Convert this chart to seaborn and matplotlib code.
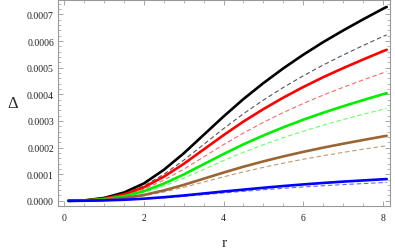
import numpy as np
import pandas as pd
import seaborn as sns
import matplotlib
matplotlib.use("Agg")
import matplotlib.pyplot as plt
from matplotlib.ticker import MultipleLocator, FormatStrFormatter

# data (values in units of 1e-4)
r = [0.1, 0.5, 1, 1.5, 2, 2.5, 3, 3.5, 4, 4.5, 5, 5.5, 6, 6.5, 7, 7.5, 8, 8.1]

black_solid = [0, 0.015, 0.109, 0.313, 0.655, 1.165, 1.784, 2.475, 3.167, 3.822, 4.419, 4.972, 5.482, 5.955, 6.392, 6.807, 7.207, 7.28]
black_dash = [0, 0.012, 0.093, 0.268, 0.561, 0.997, 1.526, 2.118, 2.710, 3.271, 3.782, 4.255, 4.691, 5.096, 5.470, 5.825, 6.168, 6.23]
red_solid = [0, 0.011, 0.085, 0.244, 0.510, 0.907, 1.389, 1.928, 2.466, 2.977, 3.442, 3.873, 4.270, 4.638, 4.978, 5.301, 5.613, 5.67]
red_dash = [0, 0.010, 0.073, 0.209, 0.437, 0.776, 1.188, 1.649, 2.110, 2.546, 2.944, 3.313, 3.652, 3.967, 4.258, 4.535, 4.802, 4.85]
green_solid = [0, 0.008, 0.061, 0.174, 0.364, 0.646, 0.990, 1.374, 1.757, 2.121, 2.452, 2.759, 3.042, 3.305, 3.547, 3.777, 4.0, 4.04]
green_dash = [0, 0.007, 0.052, 0.149, 0.312, 0.555, 0.850, 1.180, 1.509, 1.822, 2.106, 2.370, 2.613, 2.838, 3.047, 3.244, 3.435, 3.47]
brown_solid = [0, 0.005, 0.037, 0.105, 0.220, 0.390, 0.598, 0.830, 1.061, 1.281, 1.481, 1.667, 1.837, 1.996, 2.142, 2.281, 2.416, 2.44]
brown_dash = [0, 0.004, 0.031, 0.089, 0.186, 0.331, 0.507, 0.704, 0.900, 1.087, 1.256, 1.414, 1.559, 1.693, 1.817, 1.935, 2.049, 2.07]
blue_solid = [0, 0.003, 0.015, 0.04, 0.08, 0.135, 0.2, 0.275, 0.35, 0.42, 0.49, 0.555, 0.615, 0.67, 0.72, 0.765, 0.808, 0.816]
blue_dash = [0, 0.002, 0.012, 0.033, 0.067, 0.113, 0.168, 0.232, 0.296, 0.356, 0.415, 0.47, 0.52, 0.566, 0.608, 0.647, 0.683, 0.69]

solid = [black_solid, red_solid, green_solid, brown_solid, blue_solid]
dashed = [black_dash, red_dash, green_dash, brown_dash, blue_dash]
solid_colors = ["#000000", "#ff0000", "#00ee00", "#996633", "#0000ff"]
dash_colors = ["#555555", "#ff6666", "#66ff66", "#c29a73", "#6666ff"]

sns.set_theme(style="ticks")
plt.rcParams['font.family'] = ['Liberation Serif', 'DejaVu Serif']

fig = plt.figure(figsize=(3.95, 2.51), dpi=100)
ax = fig.add_axes([0.147, 0.176, 0.840, 0.820])

x = np.array(r)
for ys, c in zip(dashed, dash_colors):
  sns.lineplot(x=x, y=np.array(ys) * 1e-4, color=c, lw=0.8, ax=ax,
               linestyle=(0, (4, 2.5)))
for ys, c in zip(solid, solid_colors):
  sns.lineplot(x=x, y=np.array(ys) * 1e-4, color=c, lw=1.9, ax=ax)

ax.set_xlim(-0.16, 8.18)
ax.set_ylim(-0.0000188, 0.000754)
ax.xaxis.set_major_locator(MultipleLocator(2))
ax.xaxis.set_minor_locator(MultipleLocator(0.5))
ax.yaxis.set_major_locator(MultipleLocator(0.0001))
ax.yaxis.set_minor_locator(MultipleLocator(0.00002))
ax.yaxis.set_major_formatter(FormatStrFormatter('%.4f'))
ax.xaxis.set_major_formatter(FormatStrFormatter('%d'))

ax.tick_params(which='both', direction='in', top=True, right=True, color='#999999',
               labelsize=7, labelcolor='#222222')
ax.tick_params(axis='x', pad=5)
ax.tick_params(axis='y', pad=3)
ax.tick_params(which='major', length=3.5, width=0.6)
ax.tick_params(which='minor', length=2, width=0.5)
for sp in ax.spines.values():
  sp.set_color('#999999')
  sp.set_linewidth(0.8)

ax.set_xlabel('r', fontsize=11, labelpad=10)
ax.set_ylabel('Δ', fontsize=12, rotation=0, labelpad=10, va='center')
ax.grid(False)

fig.savefig('out.png', dpi=100)
